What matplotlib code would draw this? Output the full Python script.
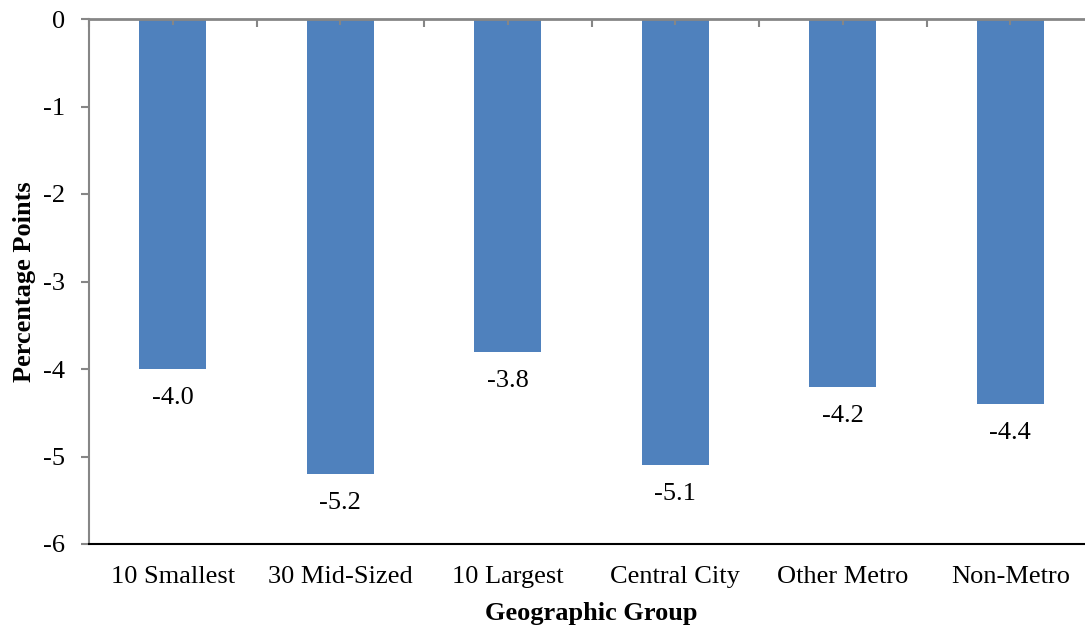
import matplotlib.pyplot as plt
import numpy as np

groups = ["10 Smallest", "30 Mid-Sized", "10 Largest", "Central City", "Other Metro", "Non-Metro"]
change = [-4.0, -5.2, -3.8, -5.1, -4.2, -4.4]
y_ticks = [0, -1, -2, -3, -4, -5, -6]

plt.rcParams['font.family'] = ['Liberation Serif', 'DejaVu Serif']

fig = plt.figure(figsize=(10.85, 6.28), dpi=100)
ax = fig.add_axes([89 / 1085, 1 - 544 / 628, (1094 - 89) / 1085, (544 - 19) / 628])

x = np.arange(len(groups))
bars = ax.bar(x, change, width=0.4, color='#4F81BD', zorder=1)

for xi, val in zip(x, change):
    ax.annotate(f'{val:.1f}', (xi, val), xytext=(0, -13), textcoords='offset points',
                ha='center', va='top', fontsize=19)

ax.set_xlim(-0.5, len(groups) - 0.5)
ax.set_ylim(-6, 0)
ax.set_yticks(y_ticks)
ax.set_yticklabels([str(t) for t in y_ticks], fontsize=19)

# category axis sits at zero along the top; labels go below the plot
ax.set_xticks(x)
ax.set_xticklabels(groups, fontsize=19)
ax.set_xticks(np.arange(-0.5, len(groups), 1.0), minor=True)
ax.tick_params(axis='x', which='both', bottom=False, top=True, direction='in',
               color='#868686', width=1.5, pad=16)
ax.tick_params(axis='x', which='major', length=4)
ax.tick_params(axis='x', which='minor', length=6)
ax.tick_params(axis='y', direction='out', length=5.5, width=1.5, color='#868686', pad=12)

ax.spines['right'].set_visible(False)
ax.spines['top'].set_color('#868686')
ax.spines['top'].set_linewidth(2)
ax.spines['left'].set_color('#868686')
ax.spines['left'].set_linewidth(1.5)
ax.spines['bottom'].set_color('black')
ax.spines['bottom'].set_linewidth(1.5)

ax.set_xlabel('Geographic Group', fontsize=19, fontweight='bold', labelpad=10)
ax.set_ylabel('Percentage Points', fontsize=19, fontweight='bold', labelpad=5)

fig.savefig('out.png', dpi=100)
